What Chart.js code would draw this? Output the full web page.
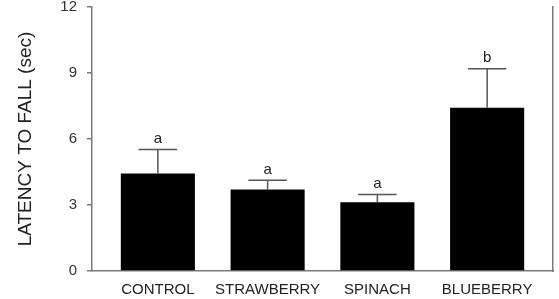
<!DOCTYPE html>
<html>
<head>
<meta charset="utf-8">
<script src="https://cdn.jsdelivr.net/npm/chart.js@4.4.0/dist/chart.umd.min.js"></script>
<style>
  html, body { margin: 0; padding: 0; background: #fff; }
  #wrap { width: 559px; height: 299px; }
</style>
</head>
<body>
<div id="wrap"><canvas id="myChart" width="559" height="299"></canvas></div>
<script>
// values
var categories = ['CONTROL', 'STRAWBERRY', 'SPINACH', 'BLUEBERRY'];
var latency = [4.43, 3.71, 3.12, 7.42];
var sem = [1.09, 0.41, 0.36, 1.77];
var groupLetters = ['a', 'a', 'a', 'b'];
var yTicks = [0, 3, 6, 9, 12];

var fontFamily = "'Liberation Sans', Arial, Helvetica, sans-serif";
var axisGray = '#7a7a7a';

// error bars + significance letters
var errorBars = {
  id: 'errorBars',
  afterDatasetsDraw: function (chart) {
    var ctx = chart.ctx;
    var xs = chart.scales.x;
    var ys = chart.scales.y;
    var meta = chart.getDatasetMeta(0);
    ctx.save();
    ctx.strokeStyle = '#555';
    ctx.lineWidth = 1.5;
    ctx.fillStyle = '#222';
    ctx.font = '15px ' + fontFamily;
    ctx.textAlign = 'center';
    ctx.textBaseline = 'middle';
    for (var i = 0; i < latency.length; i++) {
      var x = xs.getPixelForValue(i);
      var yBar = ys.getPixelForValue(latency[i]);
      var yCap = ys.getPixelForValue(latency[i] + sem[i]);
      var half = meta.data[i].width * 0.26;
      ctx.beginPath();
      ctx.moveTo(x, yBar);
      ctx.lineTo(x, yCap);
      ctx.moveTo(x - half, yCap);
      ctx.lineTo(x + half, yCap);
      ctx.stroke();
      ctx.fillText(groupLetters[i], x, yCap - 11);
    }
    ctx.restore();
  }
};

var ctx = document.getElementById('myChart').getContext('2d');
var chart = new Chart(ctx, {
  type: 'bar',
  data: {
    datasets: [{
      data: latency.map(function (v, i) { return { x: i, y: v }; }),
      backgroundColor: '#000',
      borderWidth: 0,
      barPercentage: 0.9,
      categoryPercentage: 0.75
    }]
  },
  plugins: [errorBars],
  options: {
    responsive: false,
    animation: false,
    layout: { padding: { top: 7, left: 0, right: 0, bottom: 0 } },
    plugins: {
      legend: { display: false },
      tooltip: { enabled: false }
    },
    scales: {
      x: {
        type: 'linear',
        offset: false,
        min: -0.6,
        max: 3.6,
        afterFit: function (scale) {
          scale.height = 28;
          scale.paddingLeft = 0;
          scale.paddingRight = 0;
        },
        grid: { display: true, offset: false, drawOnChartArea: false, drawTicks: false },
        border: { display: true, color: axisGray, width: 1.5 },
        ticks: {
          stepSize: 1,
          includeBounds: false,
          autoSkip: false,
          maxRotation: 0,
          padding: 10,
          color: '#222',
          font: { family: fontFamily, size: 15 },
          callback: function (value) {
            return Number.isInteger(value) && categories[value] ? categories[value] : '';
          }
        }
      },
      y: {
        min: 0,
        max: 12,
        afterFit: function (scale) {
          scale.width = 92;
          scale.paddingTop = 0;
          scale.paddingBottom = 0;
        },
        afterBuildTicks: function (scale) {
          scale.ticks = yTicks.map(function (v) { return { value: v }; });
        },
        grid: { drawOnChartArea: false, drawTicks: true, tickLength: 5, color: axisGray, lineWidth: 1.5 },
        border: { display: true, color: axisGray, width: 1.5 },
        ticks: {
          padding: 10,
          color: '#333',
          font: { family: fontFamily, size: 15 }
        },
        title: {
          display: true,
          text: 'LATENCY TO FALL (sec)',
          color: '#222',
          font: { family: fontFamily, size: 19 },
          padding: { top: 14, bottom: 0 }
        }
      },
      yRight: {
        position: 'right',
        min: 0,
        max: 12,
        afterFit: function (scale) {
          scale.width = 6;
          scale.paddingTop = 0;
          scale.paddingBottom = 0;
        },
        grid: { drawOnChartArea: false, drawTicks: false },
        border: { display: true, color: axisGray, width: 1.5 },
        ticks: { display: false }
      }
    }
  }
});
</script>
</body>
</html>
